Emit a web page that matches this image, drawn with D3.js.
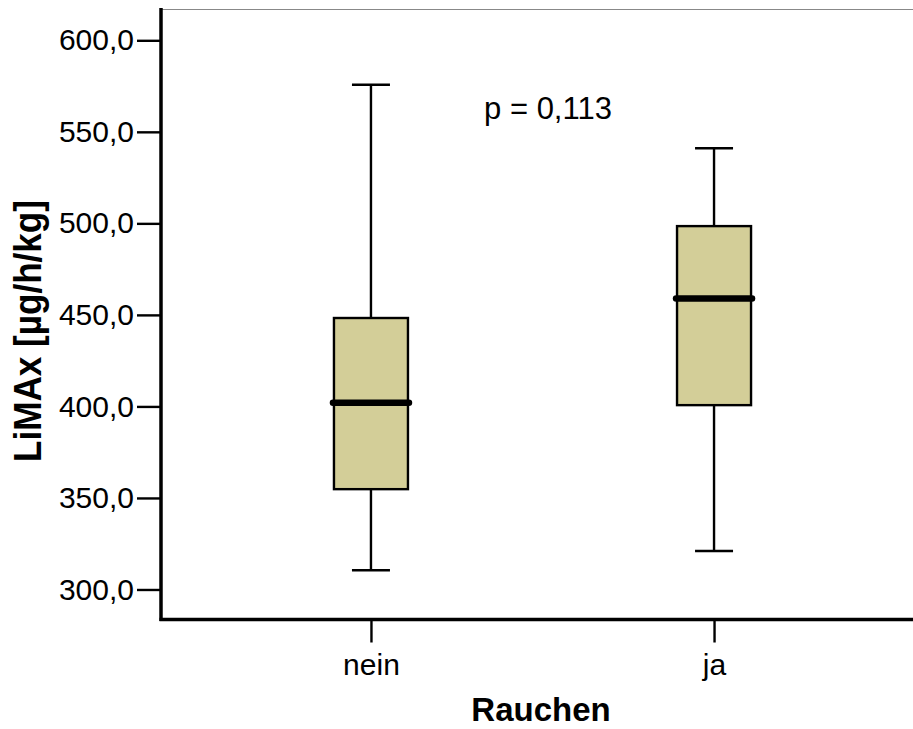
<!DOCTYPE html>
<html><head><meta charset="utf-8">
<script src="https://cdn.jsdelivr.net/npm/d3@7"></script>
<style>body{margin:0;background:#fff}svg{display:block}text{font-family:Arial,"Liberation Sans",sans-serif}</style>
</head><body>
<script>
const categories = ["nein", "ja"];
const whiskerMax = [575.7, 541.0];
const q3 = [448.3, 498.5];
const median = [402.0, 459.0];
const q1 = [354.8, 400.7];
const whiskerMin = [310.5, 321.0];
const yTicks = [300, 350, 400, 450, 500, 550, 600];
const pText = "p = 0,113";

const W = 913, H = 729;
const svg = d3.select("body").append("svg").attr("width", W).attr("height", H);
const mLeft = 161, mBottom = 619.5, mTop = 9;
const y = d3.scaleLinear().domain([283.6, 617.1]).range([mBottom, mTop]);
const x = d3.scalePoint().domain(categories).range([mLeft, 924]).padding(0.612);
const FONT = "Arial, 'Liberation Sans', sans-serif";

// thin frame top
svg.append("line").attr("x1", mLeft).attr("x2", W).attr("y1", mTop + 0.5).attr("y2", mTop + 0.5)
  .attr("stroke", "#888").attr("stroke-width", 1);

const data = categories.map((c, i) => ({c, max: whiskerMax[i], q3: q3[i], med: median[i], q1: q1[i], min: whiskerMin[i]}));
const boxW = 74, capW = 38;
const g = svg.append("g");
data.forEach(d => {
  const cx = x(d.c);
  g.append("line").attr("x1", cx).attr("x2", cx).attr("y1", y(d.max)).attr("y2", y(d.q3)).attr("stroke", "#000").attr("stroke-width", 2.4);
  g.append("line").attr("x1", cx).attr("x2", cx).attr("y1", y(d.q1)).attr("y2", y(d.min)).attr("stroke", "#000").attr("stroke-width", 2.4);
  g.append("line").attr("x1", cx - capW/2).attr("x2", cx + capW/2).attr("y1", y(d.max)).attr("y2", y(d.max)).attr("stroke", "#000").attr("stroke-width", 2.4);
  g.append("line").attr("x1", cx - capW/2).attr("x2", cx + capW/2).attr("y1", y(d.min)).attr("y2", y(d.min)).attr("stroke", "#000").attr("stroke-width", 2.4);
  g.append("rect").attr("x", cx - boxW/2).attr("y", y(d.q3)).attr("width", boxW).attr("height", y(d.q1) - y(d.q3))
    .attr("fill", "#d3ce98").attr("stroke", "#000").attr("stroke-width", 2.4);
  g.append("line").attr("x1", cx - boxW/2 - 1).attr("x2", cx + boxW/2 + 1).attr("y1", y(d.med)).attr("y2", y(d.med))
    .attr("stroke", "#000").attr("stroke-width", 6.5).attr("stroke-linecap", "round");
});

// y axis
const yAxis = d3.axisLeft(y).tickValues(yTicks).tickSize(24).tickPadding(3)
  .tickFormat(d => d3.format(".1f")(d).replace(".", ","));
const ya = svg.append("g").attr("transform", `translate(${mLeft},0)`).call(yAxis);
ya.select(".domain").remove();
ya.selectAll(".tick line").attr("stroke", "#000").attr("stroke-width", 2.4);
ya.selectAll(".tick text").attr("font-size", 30).attr("fill", "#000").attr("font-family", FONT);
svg.append("line").attr("x1", mLeft).attr("x2", mLeft).attr("y1", mTop - 1).attr("y2", mBottom + 1.5).attr("stroke", "#000").attr("stroke-width", 3.5);

// x axis
const xAxis = d3.axisBottom(x).tickSize(23).tickPadding(11);
const xa = svg.append("g").attr("transform", `translate(0,${mBottom})`).call(xAxis);
xa.select(".domain").remove();
xa.selectAll(".tick line").attr("stroke", "#000").attr("stroke-width", 2.4);
xa.selectAll(".tick text").attr("font-size", 30).attr("fill", "#000").attr("font-family", FONT);
svg.append("line").attr("x1", mLeft - 1.5).attr("x2", W).attr("y1", mBottom).attr("y2", mBottom).attr("stroke", "#000").attr("stroke-width", 3.5);

// titles
svg.append("text").attr("x", 541).attr("y", 721).attr("text-anchor", "middle")
  .attr("font-size", 33).attr("font-weight", "bold").text("Rauchen");
svg.append("text").attr("transform", "translate(41,331) rotate(-90)").attr("text-anchor", "middle")
  .attr("font-size", 38).attr("font-weight", "bold").attr("textLength", 262).attr("lengthAdjust", "spacingAndGlyphs").text("LiMAx [µg/h/kg]");
svg.append("text").attr("x", 548).attr("y", 119).attr("text-anchor", "middle").attr("font-size", 31).text(pText);
</script>
</body></html>
